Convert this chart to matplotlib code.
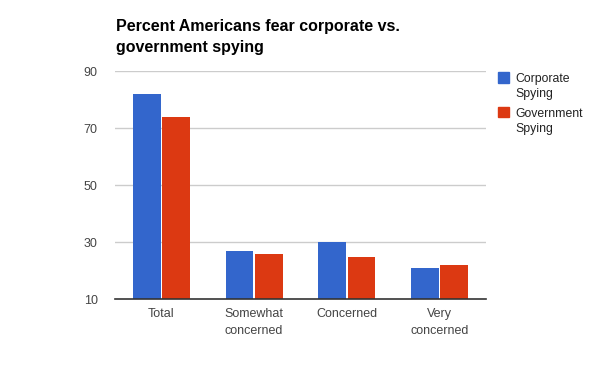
import matplotlib
matplotlib.use("Agg")
import matplotlib.pyplot as plt
from matplotlib.patches import Rectangle
import numpy as np

title = "Percent Americans fear corporate vs.\ngovernment spying"
categories = ["Total", "Somewhat\nconcerned", "Concerned", "Very\nconcerned"]
series_names = ["Corporate\nSpying", "Government\nSpying"]
corporate = [82, 27, 30, 21]
government = [74, 26, 25, 22]
y_ticks = [10, 30, 50, 70, 90]
colors = ["#3366cc", "#dc3912"]

plt.rcParams['font.family'] = ['Liberation Sans', 'DejaVu Sans']

H = 371.0
fig = plt.figure(figsize=(6, 3.71), dpi=100)
ax = fig.add_axes([115/600, 1-299.3/H, (486-115)/600, (299.3-71.3)/H])

x = np.arange(len(categories))
w = 0.30
off = 0.157
ax.bar(x - off, corporate, width=w, bottom=0, color=colors[0], zorder=3)
ax.bar(x + off, government, width=w, bottom=0, color=colors[1], zorder=3)

ax.set_xlim(-0.5, len(categories) - 0.5)
ax.set_ylim(10, 90)
ax.set_yticks(y_ticks)
ax.set_yticklabels([str(t) for t in y_ticks])
ax.set_xticks(x)
ax.set_xticklabels(categories, linespacing=1.5)
ax.tick_params(axis='both', length=0, labelsize=9.0, labelcolor='#444444')
ax.tick_params(axis='y', pad=12.5)
ax.tick_params(axis='x', pad=6.5)
for s in ['top', 'right', 'left']:
    ax.spines[s].set_visible(False)
ax.spines['bottom'].set_color('#333333')
ax.spines['bottom'].set_linewidth(1.2)
ax.spines['bottom'].set_zorder(4)
for t in y_ticks[1:]:
    ax.axhline(t, color='#cccccc', lw=1, zorder=1)

# title (two lines, placed by baseline)
for line, yb in zip(title.split("\n"), [31.0, 52.3]):
    fig.text(115.5/600, 1-yb/H, line, ha='left', va='baseline', fontsize=11.5,
             fontweight='bold', color='#000000')

# legend
sq_top = [72.3, 106.7]
txt_base = [81.7, 116.7]
for i, name in enumerate(series_names):
    fig.patches.append(Rectangle((498.3/600, 1-(sq_top[i]+10.5)/H), 11/600, 10.5/H,
                                 transform=fig.transFigure, color=colors[i]))
    for j, line in enumerate(name.split("\n")):
        fig.text(515.7/600, 1-(txt_base[i] + 15.5*j)/H, line, ha='left',
                 va='baseline', fontsize=8.8, color='#222222')

fig.savefig("out.png", dpi=100)
